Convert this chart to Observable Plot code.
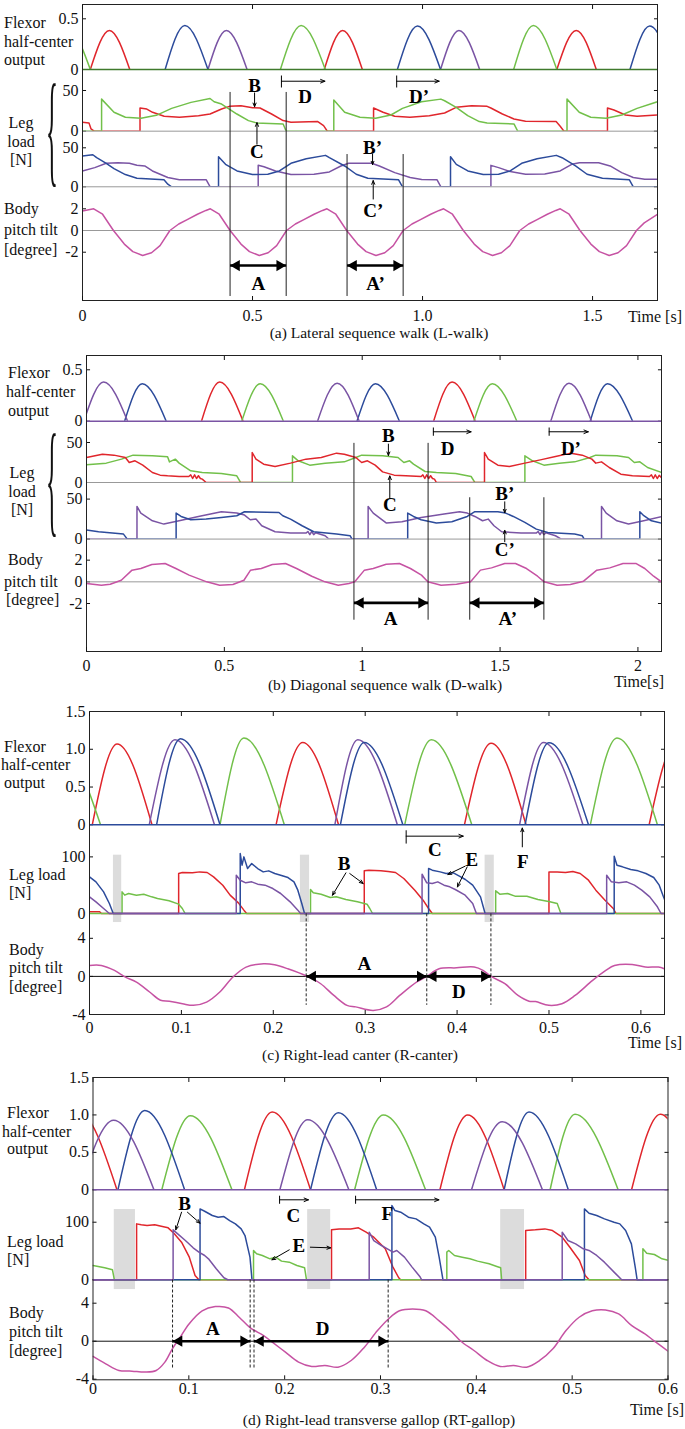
<!DOCTYPE html>
<html><head><meta charset="utf-8">
<script src="https://cdn.jsdelivr.net/npm/d3@7"></script>
<script src="https://cdn.jsdelivr.net/npm/@observablehq/plot@0.6"></script>
<style>
body{margin:0;background:#fff;}
#root{position:relative;width:685px;height:1429px;font-family:'Liberation Serif','Times New Roman',serif;color:#111;overflow:hidden;background:#fff;}
#root svg text{font-family:'Liberation Serif','Times New Roman',serif;}
.lab{position:absolute;font-size:16px;line-height:18px;white-space:nowrap;}
.cap{position:absolute;font-size:15.5px;line-height:18px;white-space:nowrap;transform:translateX(-50%);}
.tl{position:absolute;font-size:16px;line-height:18px;white-space:nowrap;transform:translateX(-100%);}
.brace{position:absolute;font-size:124px;line-height:124px;transform:scaleX(0.2);transform-origin:left top;}
</style></head>
<body><div id="root"></div>
<script>
// ================= Panel (a) Lateral sequence walk =================
const aTimeTicks = [0, 0.5, 1.0, 1.5];
const aTimeLabels = ["0", "0.5", "1.0", "1.5"];
const aFlexTicks = [0, 0.5];
const aFlexLabels = ["0", "0.5"];
const aLoadTicks = [0, 50];
const aLoadLabels = ["0", "50"];
const aPitchTicks = [-2, 0, 2];
const aPitchLabels = ["-2", "0", "2"];
// flexor bumps: [start, peak time, peak value, end]
const aFlexRed = [[0.023,0.079,0.385,0.139],[0.711,0.765,0.385,0.823],[1.395,1.452,0.385,1.511]];
const aFlexGreen = [[-0.109,-0.048,0.434,0.023],[0.582,0.643,0.434,0.714],[1.268,1.326,0.434,1.395]];
const aFlexBlue = [[0.243,0.301,0.434,0.369],[0.926,0.985,0.428,1.053],[1.610,1.668,0.428,1.737]];
const aFlexPurple = [[0.369,0.423,0.385,0.484],[1.053,1.107,0.385,1.168]];
const aLoadGreen = [[0,0],[0.056,0],[0.056,39.4],[0.0925,23.2],[0.126,17.1],[0.172,15.9],[0.217,19.5],[0.262,28],[0.319,35.4],[0.375,40.2],[0.387,36.2],[0.409,33.3],[0.454,21.1],[0.488,13],[0.511,10.2],[0.590,8.9],[0.599,0],[0.739,0],[0.739,38.2],[0.771,23.2],[0.816,17.1],[0.862,15.9],[0.907,19.9],[0.941,28],[0.997,36.2],[1.054,39.4],[1.065,37.4],[1.099,29.3],[1.133,19.1],[1.167,11.8],[1.190,10.2],[1.269,8.9],[1.280,0],[1.425,0],[1.425,39.4],[1.461,23.2],[1.495,17.1],[1.540,15.9],[1.586,19.9],[1.631,28],[1.691,36.2]];
const aLoadRed = [[0,11],[0.019,10.2],[0.025,2.8],[0.034,0],[0.169,0],[0.169,28.5],[0.189,27.2],[0.206,23.2],[0.240,18.3],[0.285,17.1],[0.341,19.1],[0.375,21.1],[0.409,27.2],[0.432,30.5],[0.466,31.3],[0.500,28.9],[0.522,28.5],[0.556,21.1],[0.590,13],[0.613,11],[0.692,11.8],[0.709,6.9],[0.720,0],[0.856,0],[0.856,28.5],[0.884,23.2],[0.918,18.3],[0.963,17.1],[1.020,19.1],[1.065,22.4],[1.099,29.3],[1.144,31.3],[1.190,30.5],[1.201,28.5],[1.235,21.1],[1.269,15],[1.303,12.2],[1.393,11.8],[1.405,6.1],[1.416,0],[1.544,0],[1.544,28.5],[1.563,26],[1.597,19.9],[1.631,18.3],[1.691,19.9]];
const aLoadBlue = [[0,39.4],[0.0303,41.1],[0.0416,37.3],[0.0699,30.1],[0.0925,23.3],[0.126,15.7],[0.160,11],[0.2396,8.9],[0.2509,3.4],[0.262,0],[0.400,0],[0.400,38.6],[0.4206,28.8],[0.4545,20.3],[0.4998,15.7],[0.545,16.1],[0.579,20.3],[0.613,30.1],[0.658,36],[0.7147,40.3],[0.726,37.3],[0.771,26.7],[0.805,16.1],[0.8391,11],[0.9296,8.9],[0.941,0],[1.0823,0],[1.0823,38.6],[1.0993,28.8],[1.1333,20.3],[1.1785,15.7],[1.2237,16.1],[1.2577,20.3],[1.2916,30.1],[1.3369,36],[1.3934,40.3],[1.4104,37.3],[1.45,26.7],[1.4839,16.1],[1.5292,11],[1.6084,8.9],[1.6197,0],[1.691,0]];
const aLoadPurple = [[0,20.3],[0.036,24.6],[0.0699,30.1],[0.104,30.9],[0.1378,30.1],[0.160,27.5],[0.183,26.7],[0.2056,20.3],[0.2509,11.9],[0.2848,8.9],[0.364,8.9],[0.3753,0],[0.5167,0],[0.5167,27.5],[0.5337,25.8],[0.5676,20.3],[0.613,15.7],[0.6808,16.1],[0.726,19.1],[0.7599,26.7],[0.7826,30.1],[0.8504,30.1],[0.873,26.7],[0.9183,18.2],[0.9636,11.9],[0.9975,9.3],[1.0428,8.9],[1.054,0],[1.2011,0],[1.2011,27.5],[1.2237,24.6],[1.2577,19.5],[1.303,16.1],[1.3595,16.5],[1.4047,20.3],[1.4387,28.8],[1.4613,30.9],[1.5179,30.9],[1.5518,26.7],[1.5857,18.2],[1.6197,11.9],[1.6536,9.7],[1.691,9.7]];
const aPitch = [[0,1.8],[0.033,2.0],[0.059,1.5],[0.091,0],[0.123,-1.25],[0.148,-1.95],[0.177,-2.3],[0.203,-2.05],[0.228,-1.4],[0.257,0],[0.283,0.6],[0.308,1.0],[0.338,1.5],[0.363,1.85],[0.376,2.0],[0.402,1.5],[0.434,0],[0.466,-1.25],[0.491,-1.95],[0.52,-2.3],[0.546,-2.05],[0.571,-1.4],[0.6,0],[0.626,0.6],[0.651,1.0],[0.681,1.5],[0.706,1.85],[0.719,2.0],[0.745,1.5],[0.777,0],[0.809,-1.25],[0.834,-1.95],[0.863,-2.3],[0.889,-2.05],[0.914,-1.4],[0.943,0],[0.969,0.6],[0.994,1.0],[1.024,1.5],[1.049,1.85],[1.062,2.0],[1.088,1.5],[1.12,0],[1.152,-1.25],[1.177,-1.95],[1.206,-2.3],[1.232,-2.05],[1.257,-1.4],[1.286,0],[1.312,0.6],[1.337,1.0],[1.367,1.5],[1.392,1.85],[1.405,2.0],[1.431,1.5],[1.463,0],[1.495,-1.25],[1.52,-1.95],[1.549,-2.3],[1.575,-2.05],[1.6,-1.4],[1.629,0],[1.652,0.7],[1.691,1.5]];
const aGuideLines = [{x:0.434,y1:12.72,y2:-6.08},{x:0.599,y1:12.72,y2:-6.08},{x:0.778,y1:7.0,y2:-6.08},{x:0.943,y1:7.0,y2:-6.08}];
const aSpanArrows = [{x1:0.434,x2:0.599,y:-3.23},{x1:0.778,x2:0.943,y:-3.23}];
const aPitchLetters = [{x:0.517,y:-4.9,label:"A"},{x:0.862,y:-4.9,label:"A’"},{x:0.855,y:1.84,label:"C’"}];
const aPitchPointers = [{x1:0.855,y1:2.9,x2:0.855,y2:4.6}];
const aUpperLetters = [{x:0.506,y:56,label:"B"},{x:0.513,y:-25.8,label:"C"},{x:0.655,y:41.8,label:"D"},{x:0.99,y:41.8,label:"D’"}];
const aUpperPointers = [{x1:0.506,y1:47,x2:0.506,y2:30},{x1:0.513,y1:-16,x2:0.513,y2:10.5}];
const aUpperBrackets = [{x1:0.585,x2:0.713,y:61.4,y1:68.4,y2:53.7},{x1:0.924,x2:1.049,y:61.4,y1:68.4,y2:53.7}];
const aLowerLetters = [{x:0.853,y:50.4,label:"B’"}];
const aLowerPointers = [{x1:0.853,y1:42,x2:0.853,y2:28.5}];

// ================= Panel (b) Diagonal sequence walk =================
const bTimeTicks = [0, 0.5, 1, 1.5, 2];
const bTimeLabels = ["0", "0.5", "1", "1.5", "2"];
const bFlexPurple = [[-0.01,0.062,0.38,0.149],[0.838,0.909,0.37,0.989],[1.684,1.750,0.37,1.832]];
const bFlexBlue = [[0.138,0.202,0.364,0.289],[0.981,1.048,0.364,1.135],[1.827,1.890,0.364,1.981]];
const bFlexRed = [[0.417,0.483,0.38,0.568],[1.259,1.326,0.38,1.410]];
const bFlexGreen = [[0.563,0.630,0.364,0.714],[1.405,1.472,0.364,1.561]];
const bLoadRed = [[0,31.25],[0.0577,35.4],[0.0994,34.2],[0.141,31.25],[0.155,25],[0.176,27.1],[0.204,21.7],[0.239,12.5],[0.267,9.2],[0.294,8.3],[0.336,7.5],[0.371,7.5],[0.378,9.5],[0.385,5],[0.392,9.5],[0.399,5],[0.406,8.5],[0.413,5],[0.4198,4.2],[0.434,0],[0.601,0],[0.601,37.5],[0.6147,29.2],[0.6426,22.9],[0.684,20],[0.740,24.2],[0.796,29.2],[0.8515,31.25],[0.907,36.7],[0.935,35.4],[0.977,31.25],[0.998,25],[1.019,27.1],[1.047,21.7],[1.074,13.3],[1.116,9.2],[1.158,8.3],[1.2137,7.5],[1.22,9.5],[1.227,5],[1.234,9.5],[1.241,5],[1.248,8.5],[1.255,5],[1.262,4.2],[1.269,0],[1.4435,0],[1.4435,37.5],[1.457,29.2],[1.492,21.7],[1.534,20],[1.590,24.2],[1.646,28.3],[1.701,32.5],[1.757,36.7],[1.798,34.2],[1.833,29.2],[1.847,24.2],[1.868,25.8],[1.896,18.75],[1.938,10.4],[1.98,8.3],[2.042,7.5],[2.049,9.5],[2.056,5],[2.063,9.5],[2.07,5],[2.077,9],[2.0855,6]];
const bLoadGreen = [[0,22.1],[0.0716,24.2],[0.127,29.2],[0.169,34.2],[0.239,33.3],[0.294,32.1],[0.301,25.8],[0.322,29.2],[0.336,24.2],[0.378,14.6],[0.4198,12.5],[0.489,11.25],[0.545,8.3],[0.559,0],[0.747,0],[0.747,33.3],[0.768,27.1],[0.8097,21.7],[0.8655,24.2],[0.935,25.8],[0.977,31.25],[0.998,34.2],[1.074,33.3],[1.13,31.25],[1.151,25],[1.172,27.1],[1.186,22.9],[1.228,13.75],[1.269,12.5],[1.339,11.25],[1.395,7.5],[1.4086,0],[1.590,0],[1.590,33.3],[1.6176,27.1],[1.659,21.7],[1.715,24.2],[1.7707,25.8],[1.826,31.25],[1.847,34.2],[1.924,33.3],[1.966,31.25],[1.987,25],[2.007,25.8],[2.035,18.75],[2.0855,12.5]];
const bLoadBlue = [[0,11.25],[0.0437,9.2],[0.134,6.25],[0.148,0],[0.325,0],[0.325,32.5],[0.343,28.3],[0.378,24.2],[0.434,25],[0.489,27.1],[0.545,29.2],[0.573,34.2],[0.698,33.3],[0.712,29.2],[0.740,25],[0.782,16.7],[0.824,9.2],[0.907,6.25],[0.956,4.2],[0.963,0],[1.165,0],[1.165,32.5],[1.186,28.3],[1.2137,24.2],[1.269,20],[1.325,21.7],[1.381,28.3],[1.4086,34.2],[1.492,34.2],[1.52,32.5],[1.548,28.3],[1.59,20.8],[1.6315,12.5],[1.673,8.3],[1.7707,6.25],[1.798,4.2],[1.8055,0],[2.007,0],[2.007,34.2],[2.0215,29.2],[2.049,22.9],[2.0855,20]];
const bLoadPurple = [[0,0],[0.183,0],[0.183,40.8],[0.197,32.5],[0.239,22.9],[0.2805,18.75],[0.336,22.9],[0.406,28.3],[0.489,34.2],[0.545,32.5],[0.573,30],[0.594,24.2],[0.6147,25],[0.6356,16.7],[0.684,9.2],[0.740,7.5],[0.796,7.5],[0.803,9.5],[0.81,5.5],[0.817,9.5],[0.824,5.5],[0.831,8],[0.8655,4.2],[0.879,0],[1.0215,0],[1.0215,40.8],[1.04,32.5],[1.088,20],[1.144,21.7],[1.214,27.1],[1.297,31.25],[1.353,34.2],[1.381,32.5],[1.4086,28.3],[1.4365,22.9],[1.457,25],[1.478,16.7],[1.506,9.2],[1.576,7.5],[1.631,7.5],[1.638,9.5],[1.645,5.5],[1.652,9.5],[1.659,5.5],[1.666,8],[1.701,4.2],[1.722,0],[1.868,0],[1.868,40.8],[1.885,32.5],[1.924,22.9],[1.966,18.75],[2.021,22.9],[2.0855,28]];
const bPitch = [[0,-0.15],[0.054,-0.31],[0.086,-0.22],[0.126,0.15],[0.165,1.08],[0.197,1.23],[0.237,1.6],[0.285,1.69],[0.324,1.23],[0.372,0.62],[0.436,0],[0.483,-0.31],[0.531,-0.25],[0.571,0.15],[0.595,1.08],[0.634,1.23],[0.674,1.6],[0.722,1.69],[0.762,1.23],[0.817,0.52],[0.865,0],[0.913,-0.31],[0.952,-0.15],[0.973,0],[1.008,1.08],[1.040,1.23],[1.087,1.63],[1.135,1.69],[1.175,1.23],[1.215,0.62],[1.238,0],[1.286,-0.31],[1.342,-0.22],[1.393,0],[1.429,1.08],[1.469,1.29],[1.517,1.69],[1.556,1.69],[1.596,1.23],[1.636,0.52],[1.660,0],[1.707,-0.31],[1.755,-0.25],[1.803,0.06],[1.851,1.08],[1.898,1.29],[1.946,1.69],[1.994,1.69],[2.025,1.23],[2.057,0.52],[2.0855,0]];
const bGuideLines = [{x:0.97,y1:12.78,y2:-3.54},{x:1.239,y1:12.78,y2:-3.54},{x:1.39,y1:7.76,y2:-3.54},{x:1.659,y1:7.76,y2:-3.54}];
const bSpanArrows = [{x1:0.97,x2:1.239,y:-1.94},{x1:1.39,x2:1.659,y:-1.94}];
const bPitchLetters = [{x:1.103,y:-3.4,label:"A"},{x:1.528,y:-3.4,label:"A’"},{x:1.517,y:2.93,label:"C’"}];
const bPitchPointers = [{x1:1.517,y1:3.7,x2:1.517,y2:4.75}];
const bUpperLetters = [{x:1.095,y:58.4,label:"B"},{x:1.1,y:-28.25,label:"C"},{x:1.31,y:42.5,label:"D"},{x:1.757,y:42.5,label:"D’"}];
const bUpperPointers = [{x1:1.095,y1:48,x2:1.095,y2:33.8},{x1:1.1,y1:-20,x2:1.1,y2:8.2}];
const bUpperBrackets = [{x1:1.258,x2:1.395,y:63.4,y1:68.75,y2:58.4},{x1:1.678,x2:1.82,y:63.4,y1:68.75,y2:58.4}];
const bLowerLetters = [{x:1.517,y:56.25,label:"B’"}];
const bLowerPointers = [{x1:1.517,y1:46.6,x2:1.517,y2:33}];

// ================= Panel (c) Right-lead canter =================
const cTimeTicks = [0, 0.1, 0.2, 0.3, 0.4, 0.5, 0.6];
const cTimeLabels = ["0", "0.1", "0.2", "0.3", "0.4", "0.5", "0.6"];
const cFlexTicks = [0, 0.5, 1.0, 1.5];
const cFlexLabels = ["0", "0.5", "1.0", "1.5"];
const cLoadTicks = [0, 100];
const cLoadLabels = ["0", "100"];
const cPitchTicks = [-4, 0, 4];
const cPitchLabels = ["-4", "0", "4"];
const cFlexRed = [[0.003,0.030,1.07,0.068],[0.203,0.232,1.09,0.271],[0.408,0.437,1.08,0.475],[0.609,0.638,1.08,0.675]];
const cFlexGreen = [[-0.062,-0.036,1.15,0.012],[0.142,0.168,1.15,0.212],[0.343,0.372,1.125,0.416],[0.545,0.574,1.15,0.618]];
const cFlexPurple = [[0.065,0.093,1.125,0.136],[0.267,0.292,1.125,0.335],[0.468,0.494,1.09,0.537]];
const cFlexBlue = [[0.073,0.099,1.14,0.142],[0.273,0.299,1.09,0.341],[0.474,0.500,1.085,0.543]];
const cLoadRed = [[0,3],[0.011,3],[0.013,0],[0.097,0],[0.097,70.6],[0.101,72.4],[0.112,71.8],[0.120,73.5],[0.128,72.4],[0.135,64.7],[0.145,50],[0.153,32.4],[0.162,18.8],[0.168,5.9],[0.171,0],[0.299,0],[0.299,75.3],[0.304,76.5],[0.317,75.3],[0.325,74.1],[0.333,72.4],[0.342,61.8],[0.354,41.2],[0.363,23.5],[0.369,8.8],[0.373,0],[0.500,0],[0.500,73.5],[0.509,73.5],[0.518,72.4],[0.526,74.1],[0.534,70.6],[0.543,58.8],[0.551,41.2],[0.561,23.5],[0.570,8.8],[0.573,0],[0.6257,0]];
const cLoadGreen = [[0,0],[0.0354,0],[0.0354,38.2],[0.0383,32.4],[0.0425,35.3],[0.051,32.4],[0.059,34.1],[0.0676,29.4],[0.074,26.5],[0.0865,22.4],[0.097,16.5],[0.101,8.8],[0.104,0],[0.2405,0],[0.2405,42.4],[0.2435,36.5],[0.252,34.1],[0.262,28.2],[0.2685,29.4],[0.279,24.7],[0.2916,20.6],[0.302,16.5],[0.305,8.8],[0.308,0],[0.442,0],[0.442,40],[0.4465,34.1],[0.455,35.3],[0.463,30.6],[0.476,30.6],[0.488,24.7],[0.501,20.6],[0.509,17.6],[0.511,8.8],[0.513,0],[0.6257,0]];
const cLoadBlue = [[0,64.7],[0.007,55.9],[0.0153,38.2],[0.0216,17.6],[0.0258,0],[0.164,0],[0.164,105.9],[0.166,85.3],[0.168,100],[0.172,79.4],[0.1765,88.2],[0.183,79.4],[0.189,73.5],[0.195,75.3],[0.2016,70.6],[0.208,67.6],[0.216,63.5],[0.2225,55.9],[0.2267,41.2],[0.231,17.6],[0.234,0],[0.369,0],[0.369,79.4],[0.373,76.5],[0.3816,73.5],[0.388,70.6],[0.396,71.8],[0.4025,65.9],[0.409,60],[0.417,50],[0.4255,29.4],[0.4305,0],[0.571,0],[0.571,101.2],[0.574,85.3],[0.580,82.4],[0.589,77.6],[0.597,75.3],[0.6055,70.6],[0.614,63.5],[0.620,50],[0.624,32.4],[0.6257,25]];
const cLoadPurple = [[0,29.4],[0.007,20.6],[0.0153,8.8],[0.0216,0],[0.1597,0],[0.1597,67.6],[0.164,58.8],[0.170,54.1],[0.1765,55.9],[0.183,51.8],[0.191,50],[0.1995,44.1],[0.208,35.3],[0.2183,20.6],[0.2267,5.9],[0.2296,0],[0.3619,0],[0.3619,69.4],[0.367,54.1],[0.373,52.9],[0.379,55.9],[0.3858,50],[0.392,47.1],[0.398,42.4],[0.4088,32.4],[0.417,17.6],[0.421,0],[0.5628,0],[0.5628,67.6],[0.568,55.9],[0.576,54.1],[0.5846,55.9],[0.593,50],[0.601,41.2],[0.6097,29.4],[0.618,11.8],[0.622,0],[0.6257,0]];
const cPitch = [[0,1.15],[0.0129,1.15],[0.0272,0.63],[0.0391,-0.07],[0.0511,-0.6],[0.0654,-1.64],[0.0773,-2.5],[0.0869,-2.6],[0.1012,-2.87],[0.1131,-3.04],[0.1274,-2.7],[0.1418,-1.64],[0.1561,-0.07],[0.1704,0.98],[0.1895,1.33],[0.2014,1.22],[0.2158,0.8],[0.2372,0],[0.2516,-0.77],[0.2659,-2.0],[0.2802,-3.04],[0.2897,-3.2],[0.3088,-3.57],[0.3232,-3.2],[0.3375,-2.0],[0.3566,-0.55],[0.367,0],[0.3804,0.8],[0.3995,0.9],[0.4186,0.98],[0.4282,0.63],[0.4368,0],[0.452,-0.77],[0.4663,-2.0],[0.4783,-2.6],[0.4854,-2.64],[0.4998,-3.04],[0.5141,-2.87],[0.5284,-2.0],[0.5475,-0.42],[0.5618,0.63],[0.5713,1.15],[0.5905,1.26],[0.6048,0.98],[0.6191,0.98],[0.6257,0.8]];
const cShading = [{x1:0.026,x2:0.035,y1:-16,y2:103},{x1:0.2295,x2:0.2395,y1:-16,y2:103},{x1:0.4305,x2:0.4405,y1:-16,y2:103}];
const cGuideLines = [{x:0.2358,y1:6.57,y2:-3.04},{x:0.367,y1:6.57,y2:-3.04},{x:0.4368,y1:6.57,y2:-3.04}];
const cSpanArrows = [{x1:0.2358,x2:0.367,y:0},{x1:0.367,x2:0.4368,y:0}];
const cPitchLetters = [{x:0.299,y:1.3,label:"A"},{x:0.402,y:-1.64,label:"D"}];
const cLoadLetters = [{x:0.3757,y:111.8,label:"C"},{x:0.416,y:94.2,label:"E"},{x:0.277,y:88.3,label:"B"},{x:0.4716,y:91.2,label:"F"}];
const cLoadPointers = [{x1:0.4088,y1:83.6,x2:0.39,y2:68.9},{x1:0.411,y1:82.3,x2:0.4004,y2:47},{x1:0.279,y1:71.8,x2:0.2644,y2:32.3},{x1:0.2832,y1:70.6,x2:0.2978,y2:53},{x1:0.471,y1:117.7,x2:0.471,y2:151}];
const cLoadBrackets = [{x1:0.3446,x2:0.4067,y:136.6,y1:147,y2:123.5}];

// ================= Panel (d) Right-lead transverse gallop =================
const dTimeTicks = [0, 0.1, 0.2, 0.3, 0.4, 0.5, 0.6];
const dTimeLabels = ["0", "0.1", "0.2", "0.3", "0.4", "0.5", "0.6"];
const dFlexRed = [[-0.043,-0.015,1.04,0.025],[0.158,0.187,1.04,0.227],[0.362,0.391,1.0,0.429],[0.562,0.592,1.01,0.63]];
const dFlexPurple = [[-0.014,0.0215,0.93,0.0636],[0.195,0.224,0.935,0.267],[0.395,0.427,0.91,0.469]];
const dFlexBlue = [[0.026,0.054,1.06,0.0956],[0.227,0.256,1.03,0.296],[0.429,0.455,1.04,0.496]];
const dFlexGreen = [[0.0718,0.1016,0.99,0.145],[0.273,0.303,1.0,0.347],[0.477,0.503,1.01,0.548]];
const dLoadRed = [[0,0],[0.0455,0],[0.0455,97.1],[0.0503,95.4],[0.0564,94.2],[0.0644,95.4],[0.0724,92.5],[0.0784,90.2],[0.0844,80.9],[0.0924,65.3],[0.1005,39.3],[0.1065,7.5],[0.1105,0],[0.2489,0],[0.2489,86.7],[0.2569,88.4],[0.2689,88.4],[0.277,90.2],[0.285,82.7],[0.293,74],[0.305,53.8],[0.313,22],[0.319,3.5],[0.321,0],[0.4515,0],[0.4515,85.5],[0.4615,86.7],[0.4715,88.4],[0.4795,85.5],[0.4896,74],[0.4976,56.6],[0.5076,33.5],[0.5136,7.5],[0.5176,0],[0.6,0]];
const dLoadPurple = [[0,0],[0.0836,0],[0.0836,86.7],[0.0884,79.8],[0.0964,68.2],[0.1045,55.5],[0.1105,48],[0.1165,42.2],[0.1205,36.4],[0.1286,19.1],[0.1366,3.5],[0.1406,0],[0.2882,0],[0.2882,82.7],[0.293,68.2],[0.301,59.5],[0.309,52],[0.313,48],[0.317,50.9],[0.325,39.3],[0.333,22],[0.341,5.8],[0.343,0],[0.4896,0],[0.4896,82.7],[0.4956,68.2],[0.5036,62.4],[0.5116,53.8],[0.5176,50.9],[0.5256,42.2],[0.5336,30.6],[0.5437,13.3],[0.5517,0],[0.6,0]];
const dLoadBlue = [[0,0],[0.1117,0],[0.1117,123.1],[0.1165,119],[0.1245,111.6],[0.1306,108.7],[0.1366,109.8],[0.1426,102.9],[0.1486,97.1],[0.1546,88.4],[0.1586,76.9],[0.1606,62.4],[0.1638,39.3],[0.1659,0],[0.3119,0],[0.3119,128.9],[0.3151,120.2],[0.3211,117.3],[0.3291,108.7],[0.3371,105.8],[0.3452,97.1],[0.3512,91.3],[0.3572,74],[0.3612,39.3],[0.3652,0],[0.5128,0],[0.5128,123.1],[0.5176,115.6],[0.5256,111.6],[0.5337,105.8],[0.5437,100],[0.5497,97.1],[0.5558,85.5],[0.5618,62.4],[0.5658,22],[0.5678,0],[0.6,0]];
const dLoadGreen = [[0,24.9],[0.0122,20.8],[0.0203,17.3],[0.0223,0],[0.1675,0],[0.1675,50.9],[0.1707,45.1],[0.1767,42.2],[0.1847,36.4],[0.1907,39.3],[0.1967,32.4],[0.2048,30.6],[0.2128,24.9],[0.2208,20.8],[0.2228,0],[0.3692,0],[0.3692,48],[0.3712,50.9],[0.3772,42.2],[0.3853,39.3],[0.3933,36.4],[0.4013,32.4],[0.4133,27.7],[0.4214,23.1],[0.4254,20.8],[0.4264,0],[0.5738,0],[0.5738,53.8],[0.5778,46.2],[0.5858,43.9],[0.5938,36.4],[0.6,34]];
const dPitch = [[0,-1.6],[0.0133,-2.38],[0.027,-3.08],[0.0407,-3.15],[0.0544,-3.25],[0.0659,-3.08],[0.075,-2.2],[0.0828,-0.8],[0.091,0.42],[0.1002,1.82],[0.1139,3.2],[0.1276,3.64],[0.1414,3.5],[0.1528,2.5],[0.1642,1.4],[0.178,0.6],[0.1871,-0.1],[0.2008,-1.15],[0.2145,-2.2],[0.2283,-2.66],[0.242,-2.55],[0.2557,-2.73],[0.2694,-2.03],[0.2832,-0.63],[0.2969,1.12],[0.3083,2.34],[0.3198,3.2],[0.3335,3.39],[0.3472,3.2],[0.3609,2.17],[0.3747,0.94],[0.3838,0],[0.3975,-0.98],[0.4113,-2.03],[0.425,-2.66],[0.4387,-2.55],[0.4524,-2.73],[0.4661,-2.03],[0.4799,-0.8],[0.4936,1.12],[0.5073,2.52],[0.521,3.2],[0.5348,3.29],[0.5485,2.87],[0.5622,1.64],[0.5759,0.77],[0.5851,0.07],[0.6,-1.05]];
const dShading = [{x1:0.0222,x2:0.0443,y1:-17,y2:122},{x1:0.224,x2:0.248,y1:-17,y2:122},{x1:0.4254,x2:0.4503,y1:-17,y2:122}];
const dGuideLines = [{x:0.083,y1:6.44,y2:-2.97},{x:0.164,y1:6.44,y2:-2.97},{x:0.168,y1:6.44,y2:-2.97},{x:0.308,y1:6.44,y2:-2.97}];
const dSpanArrows = [{x1:0.083,x2:0.164,y:0},{x1:0.168,x2:0.308,y:0}];
const dPitchLetters = [{x:0.125,y:1.25,label:"A"},{x:0.2397,y:1.25,label:"D"}];
const dLoadLetters = [{x:0.209,y:111.6,label:"C"},{x:0.307,y:114.6,label:"F"},{x:0.0957,y:132,label:"B"},{x:0.2148,y:59.5,label:"E"}];
const dLoadPointers = [{x1:0.0924,y1:117.4,x2:0.0864,y2:86.8},{x1:0.0985,y1:117.4,x2:0.1117,y2:98.3},{x1:0.2048,y1:52,x2:0.1867,y2:34.7},{x1:0.2268,y1:56.6,x2:0.248,y2:55.5}];
const dLoadBrackets = [{x1:0.1947,x2:0.2248,y:138.9,y1:146,y2:132},{x1:0.274,x2:0.361,y:138.9,y1:146,y2:132}];

// ================= Rendering =================
const COL = {red:"#e0262c", green:"#72c04a", blue:"#2c4b9b", purple:"#7a54a4", pink:"#c653a3"};
const FONT = "'Liberation Serif','Times New Roman',serif";
const root = document.getElementById("root");
const fmtFrom = (ticks, labels) => d => { const i = ticks.indexOf(d); return i < 0 ? "" : labels[i]; };
const rows = arr => arr.map(([t, v]) => ({t, v}));
const bumpRows = arr => arr.flatMap((b, i) => [{t:b[0], v:0, id:i}, {t:b[1], v:b[2], id:i}, {t:b[3], v:0, id:i}]);

function place(svg, top) {
  svg.style.position = "absolute"; svg.style.left = "0px"; svg.style.top = top + "px";
  root.appendChild(svg);
}
function sub(P, top, bottom, yDomain, marks) {
  const svg = Plot.plot({
    width: 685, height: bottom - top,
    marginLeft: P.left, marginRight: 685 - P.right, marginTop: 0, marginBottom: 0,
    x: {domain: P.xDomain, axis: null}, y: {domain: yDomain, axis: null},
    style: {background: "transparent", overflow: "visible", fontFamily: FONT, fontSize: "16px", color: "#111"},
    marks
  });
  place(svg, top);
}
function frame(P) {
  const svg = Plot.plot({
    width: 685, height: P.bottom - P.top,
    marginLeft: P.left, marginRight: 685 - P.right, marginTop: 0, marginBottom: 0,
    x: {domain: P.xDomain, axis: null}, y: {domain: [0, 1], axis: null},
    style: {background: "transparent", overflow: "visible", fontFamily: FONT, fontSize: "16px", color: "#111"},
    marks: [
      Plot.frame({stroke: "#222", strokeWidth: 1}),
      Plot.axisX(P.xTicks, {anchor: "bottom", tickSize: 0, tickPadding: P.pad, tickFormat: fmtFrom(P.xTicks, P.xLabels), label: null}),
      Plot.axisX(P.xTicks, {anchor: "bottom", tickSize: -4, fill: "none", label: null}),
      Plot.axisX(P.xTicks, {anchor: "top", tickSize: -4, fill: "none", label: null})
    ]
  });
  place(svg, P.top);
}
function yAxes(ticks, labels) {
  return [
    Plot.axisY(ticks, {anchor: "left", tickSize: 0, tickPadding: 4, tickFormat: fmtFrom(ticks, labels), label: null}),
    Plot.axisY(ticks, {anchor: "left", tickSize: -4, fill: "none", label: null}),
    Plot.axisY(ticks, {anchor: "right", tickSize: -4, fill: "none", label: null})
  ];
}
const flex = (b, c) => Plot.line(bumpRows(b), {x: "t", y: "v", z: "id", stroke: c, strokeWidth: 1.5, curve: "monotone-x", clip: true});
const trace = (d, c, curve = "linear") => Plot.line(rows(d), {x: "t", y: "v", stroke: c, strokeWidth: 1.5, curve, clip: true});
const letters = d => Plot.text(d, {x: "x", y: "y", text: "label", fontSize: 19, fontWeight: "bold", fill: "#000"});
const pointers = d => Plot.arrow(d, {x1: "x1", y1: "y1", x2: "x2", y2: "y2", stroke: "#000", strokeWidth: 1, headLength: 6, headAngle: 45});
const brackets = d => [
  Plot.arrow(d, {x1: "x1", x2: "x2", y1: "y", y2: "y", stroke: "#000", strokeWidth: 1, headLength: 7, headAngle: 45}),
  Plot.link(d, {x1: "x1", x2: "x1", y1: "y1", y2: "y2", stroke: "#000", strokeWidth: 1})
];
const spans = d => [
  Plot.link(d, {x1: "x1", x2: "x2", y1: "y", y2: "y", stroke: "#000", strokeWidth: 2.6}),
  Plot.dot(d, {x: "x1", y: "y", symbol: "triangle", r: 4.2, rotate: -90, fill: "#000", stroke: "none", dx: 6.5}),
  Plot.dot(d, {x: "x2", y: "y", symbol: "triangle", r: 4.2, rotate: 90, fill: "#000", stroke: "none", dx: -6.5})
];
const guides = (d, dash) => Plot.ruleX(d, {x: "x", y1: "y1", y2: "y2", stroke: "#222", strokeWidth: 1, strokeDasharray: dash ? "3,2" : null});
const shading = d => Plot.rect(d, {x1: "x1", x2: "x2", y1: "y1", y2: "y2", fill: "#dcdcdc"});
const zero = (c, w = 1) => Plot.ruleY([0], {stroke: c, strokeWidth: w});

// ---- (a)
const PA = {left: 82, right: 657, xDomain: [0, 1.691], top: 4, bottom: 300, xTicks: aTimeTicks, xLabels: aTimeLabels, pad: 9};
sub(PA, 4, 69, [0, 0.641], [...yAxes(aFlexTicks, aFlexLabels), flex(aFlexPurple, COL.purple), flex(aFlexBlue, COL.blue), flex(aFlexRed, COL.red), flex(aFlexGreen, COL.green), zero("#3f7a2c", 1.6)]);
sub(PA, 69, 130.7, [0, 75.8], [...yAxes(aLoadTicks, aLoadLabels), zero("#999"), trace(aLoadRed, COL.red), trace(aLoadGreen, COL.green),
  letters(aUpperLetters), pointers(aUpperPointers), ...brackets(aUpperBrackets)]);
sub(PA, 130.7, 186, [0, 70.9], [...yAxes(aLoadTicks, aLoadLabels), zero("#999"), trace(aLoadPurple, COL.purple), trace(aLoadBlue, COL.blue),
  letters(aLowerLetters), pointers(aLowerPointers)]);
sub(PA, 186, 300, [-6.45, 4.055], [...yAxes(aPitchTicks, aPitchLabels), zero("#999"), trace(aPitch, COL.pink),
  guides(aGuideLines, false), ...spans(aSpanArrows), letters(aPitchLetters), pointers(aPitchPointers)]);
frame(PA);

// ---- (b)
const PB = {left: 86, right: 661, xDomain: [0, 2.0855], top: 355, bottom: 651, xTicks: bTimeTicks, xLabels: bTimeLabels, pad: 8};
sub(PB, 355, 420.7, [0, 0.639], [...yAxes(aFlexTicks, aFlexLabels), flex(bFlexRed, COL.red), flex(bFlexGreen, COL.green), flex(bFlexBlue, COL.blue), flex(bFlexPurple, COL.purple), zero(COL.purple, 1.6)]);
sub(PB, 420.7, 481.7, [0, 76.25], [...yAxes(aLoadTicks, aLoadLabels), zero("#999"), trace(bLoadGreen, COL.green), trace(bLoadRed, COL.red),
  letters(bUpperLetters), pointers(bUpperPointers), ...brackets(bUpperBrackets)]);
sub(PB, 481.7, 538.3, [0, 70.75], [...yAxes(aLoadTicks, aLoadLabels), zero("#999"), trace(bLoadPurple, COL.purple), trace(bLoadBlue, COL.blue),
  letters(bLowerLetters), pointers(bLowerPointers)]);
sub(PB, 538.3, 651, [-6.4, 4.0], [...yAxes(aPitchTicks, aPitchLabels), zero("#999"), trace(bPitch, COL.pink),
  guides(bGuideLines, false), ...spans(bSpanArrows), letters(bPitchLetters), pointers(bPitchPointers)]);
frame(PB);

// ---- (c)
const PC = {left: 89, right: 664, xDomain: [0, 0.6257], top: 711, bottom: 1014, xTicks: cTimeTicks, xLabels: cTimeLabels, pad: 7};
sub(PC, 711, 824.3, [0, 1.5], [...yAxes(cFlexTicks, cFlexLabels), flex(cFlexRed, COL.red), flex(cFlexGreen, COL.green), flex(cFlexPurple, COL.purple), flex(cFlexBlue, COL.blue), zero(COL.blue, 1.6)]);
sub(PC, 824.3, 930, [-29.5, 157.2], [...yAxes(cLoadTicks, cLoadLabels), shading(cShading), trace(cLoadRed, COL.red), trace(cLoadGreen, COL.green), trace(cLoadBlue, COL.blue), trace(cLoadPurple, COL.purple),
  letters(cLoadLetters), pointers(cLoadPointers), ...brackets(cLoadBrackets)]);
sub(PC, 930, 1014, [-4, 4.82], [...yAxes(cPitchTicks, cPitchLabels), zero("#111"), trace(cPitch, COL.pink, "catmull-rom"),
  guides(cGuideLines, true), ...spans(cSpanArrows), letters(cPitchLetters)]);
frame(PC);

// ---- (d)
const PD = {left: 92.5, right: 667.5, xDomain: [0, 0.6], top: 1076.7, bottom: 1379, xTicks: dTimeTicks, xLabels: dTimeLabels, pad: 3};
sub(PD, 1076.7, 1189, [0, 1.5], [...yAxes(cFlexTicks, cFlexLabels), flex(dFlexRed, COL.red), flex(dFlexGreen, COL.green), flex(dFlexBlue, COL.blue), flex(dFlexPurple, COL.purple), zero(COL.purple, 1.6)]);
sub(PD, 1189, 1295, [-27.3, 156.8], [...yAxes(cLoadTicks, cLoadLabels), shading(dShading), trace(dLoadRed, COL.red), trace(dLoadGreen, COL.green), trace(dLoadBlue, COL.blue), trace(dLoadPurple, COL.purple),
  letters(dLoadLetters), pointers(dLoadPointers), ...brackets(dLoadBrackets)]);
sub(PD, 1295, 1379, [-4.03, 4.81], [...yAxes(cPitchTicks, cPitchLabels), zero("#111"), trace(dPitch, COL.pink, "catmull-rom"),
  guides(dGuideLines, true), ...spans(dSpanArrows), letters(dPitchLetters)]);
frame(PD);

// ---- text outside the plots
function lab(text, x, y, cls = "lab", center = false) {
  const el = document.createElement("div");
  el.className = cls; el.textContent = text;
  el.style.left = x + "px"; el.style.top = (y - 9) + "px";
  if (center) el.style.transform = "translateX(-50%)";
  root.appendChild(el);
}
[["Flexor",4,22.7],["half-center",4,41.7],["output",4,60],["Body",4,209.3],["pitch tilt",4,230],["[degree]",4,250],
 ["Flexor",8,373.3],["half-center",6,392.3],["output",8,411],["Body",8,560],["pitch tilt",4,581.7],["[degree]",6,600],
 ["Flexor",4,746.7],["half-center",1,765],["output",4,782.7],["Leg load",9,875],["[N]",9,893],["Body",9,950],["pitch tilt",9,968.3],["[degree]",9,987],
 ["Flexor",7,1113.3],["half-center",2,1131.7],["output",7,1149],["Leg load",7,1242],["[N]",7,1260],["Body",9,1313],["pitch tilt",9,1332],["[degree]",9,1351]
].forEach(([t,x,y]) => lab(t, x, y));
[["Leg",21,123],["load",21,142],["[N]",21,160],["Leg",22,473.3],["load",22,491.7],["[N]",22,510]].forEach(([t,x,y]) => lab(t, x, y, "lab", true));
[["Time [s]",682,317],["Time[s]",664,682],["Time [s]",682,1043],["Time [s]",684,1410]].forEach(([t,x,y]) => lab(t, x, y, "tl"));
[["(a) Lateral sequence walk (L-walk)",379,333],["(b) Diagonal sequence walk (D-walk)",385,685],["(c) Right-lead canter (R-canter)",360,1055],["(d) Right-lead transverse gallop (RT-gallop)",379,1420]].forEach(([t,x,y]) => lab(t, x, y, "cap"));
[[46,66.5],[46,417.2]].forEach(([x,y]) => { const el = document.createElement("div"); el.className = "brace"; el.textContent = "{"; el.style.left = x + "px"; el.style.top = y + "px"; root.appendChild(el); });
</script>
</body></html>
